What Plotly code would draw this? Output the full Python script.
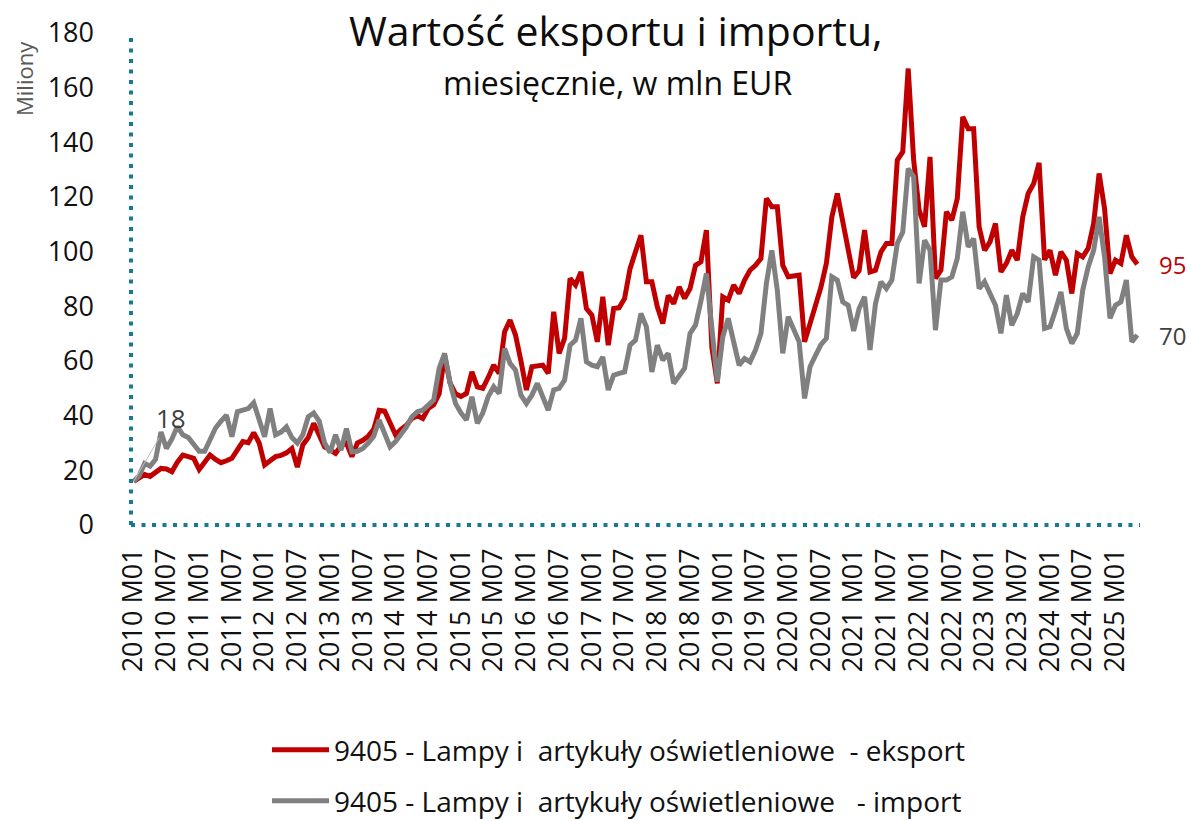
import plotly.graph_objects as go

# ---- data -------------------------------------------------------------
months = [f"{y} M{m:02d}" for y in range(2010, 2026) for m in range(1, 13)][:185]
tick_labels = months[::6]

export = [
    16, 17.5, 18.5, 17.8, 19, 20.7, 20.5, 19.5, 23, 25.6, 25, 24.4,            # 2010
    20.3, 23, 25.6, 24, 22.8, 23.5, 24.4, 27.5, 30.5, 30.1, 33.8, 30,         # 2011
    22, 23.5, 25, 25.5, 26.4, 28, 21.2, 29.3, 32, 37.2, 33, 28.6,             # 2012
    27.5, 26.2, 29, 30, 25, 30, 31, 32.5, 35, 42, 41.7, 37,                   # 2013
    33, 35, 36.5, 39, 40, 39, 42.6, 44, 48, 62, 52, 48,                       # 2014
    47, 48.1, 56, 50.5, 50, 54, 58.5, 55.5, 70.7, 75, 69.5, 60,               # 2015
    49.4, 57.9, 58.3, 58.5, 55.5, 78, 62.8, 68.3, 90.2, 87.8, 92.6, 79.2,     # 2016
    76.8, 67, 83.5, 65.8, 79.2, 79.5, 82.9, 93.8, 100, 106, 89, 89,           # 2017
    79.8, 73.7, 84, 81, 87.1, 82.9, 86.5, 95, 96.3, 107.9, 65, 51.8,          # 2018
    83.5, 82.3, 87.8, 84.7, 89.6, 93.2, 95, 97.5, 119.5, 116.4, 116.4, 95,    # 2019
    90.8, 91, 91.4, 67, 74, 80, 87, 95.7, 112.7, 121.3, 111.5, 100,           # 2020
    90.5, 93, 107.9, 92.6, 93.2, 99.9, 103, 103, 133.5, 136.5, 167, 133.5,    # 2021
    115.2, 109.1, 134.7, 90.2, 93.2, 114.6, 111.5, 119.4, 149.3, 145, 145, 109.1,  # 2022
    100.5, 103.6, 110.3, 92.6, 95.7, 100.5, 96.9, 112.7, 121.3, 124.9, 132.5, 97,  # 2023
    100.5, 91.4, 99.9, 96.9, 84.7, 99.3, 98.1, 101.2, 110.3, 128.6, 115.8, 92,     # 2024
    96.9, 95.7, 106, 98.1, 95.4,                                              # 2025
]

imports = [
    16, 18, 22.5, 21.5, 24, 34, 28, 31.5, 36, 33, 32, 29.5,                   # 2010
    27, 27, 31, 35.5, 38, 40.2, 32.3, 41.4, 42, 42.6, 44.7, 38,               # 2011
    32.3, 42.6, 33, 34, 35.9, 32, 30, 33, 39.6, 41, 38, 30,                   # 2012
    26.5, 33, 27.4, 35.3, 26.8, 27, 28, 30, 32.5, 38.4, 33, 28.6,             # 2013
    30.5, 33, 35.9, 39.6, 41.4, 42, 44, 45.7, 57.3, 62.8, 52, 44.5,           # 2014
    41, 38.4, 46.9, 37.2, 41, 47, 50.6, 48.1, 64.6, 59.1, 56.7, 47.5,         # 2015
    44.5, 47.5, 51.8, 47, 42, 49.4, 50, 53, 65.8, 67.6, 75.6, 59.7,           # 2016
    58.5, 57.9, 61.5, 49.4, 54.8, 55.5, 56, 65.8, 67.6, 77.4, 72.5, 56,       # 2017
    65.8, 60.3, 62.8, 51.8, 54.5, 57.3, 70.1, 73.1, 82, 92, 72, 52.4,         # 2018
    68.8, 75.6, 67, 58.5, 60.9, 59.7, 64, 70.1, 88.4, 100.5, 85.9, 62.8,      # 2019
    76.2, 72, 67, 46.3, 57.9, 62, 66, 68.3, 90.8, 89.6, 81.6, 80.4,           # 2020
    71, 79.2, 83.5, 64, 81, 89, 86.5, 89.6, 103, 107.2, 130.4, 127.4,         # 2021
    88.4, 104.2, 100.5, 71.3, 89.6, 89.6, 90.8, 97.5, 114.6, 101.8, 104.8, 86.5,  # 2022
    89, 84.7, 80.4, 70.1, 84.1, 73.1, 77.4, 84.7, 81.6, 98.1, 96.9, 71.9,     # 2023
    72.5, 78.6, 85.3, 71.9, 66.4, 70.1, 85.9, 94.4, 100.5, 112.7, 98.1, 75.6, # 2024
    80.4, 81.6, 89.6, 67, 69.5,                                               # 2025
]

name_exp = "9405 - Lampy i\u00a0\u00a0artykuły oświetleniowe\u00a0\u00a0- eksport"
name_imp = "9405 - Lampy i\u00a0\u00a0artykuły oświetleniowe\u00a0\u00a0\u00a0- import"

RED = "#C00000"
GREY = "#808080"
TEAL = "#17799A"
FONT = "'Open Sans', Lato, sans-serif"
TXT = "#111111"

fig = go.Figure()
fig.add_trace(go.Scatter(x=months, y=export, mode="lines", name=name_exp,
                         line=dict(color=RED, width=5), legend="legend"))
fig.add_trace(go.Scatter(x=months, y=imports, mode="lines", name=name_imp,
                         line=dict(color=GREY, width=5), legend="legend2"))

L, R, T, B = 131, 51, 33, 296
W, H = 1191, 821
pw, ph = W - L - R, H - T - B

def px_x(x):
    return (x - L) / pw

def px_y(y):
    return (H - B - y) / ph

leg_common = dict(xref="container", yref="container", xanchor="left", yanchor="middle",
                  font=dict(size=28, color=TXT, family=FONT), bgcolor="rgba(0,0,0,0)",
                  itemwidth=57)

fig.update_layout(
    width=W, height=H,
    margin=dict(l=L, r=R, t=T, b=B, autoexpand=False),
    paper_bgcolor="white", plot_bgcolor="white",
    font=dict(family=FONT, color=TXT),
    showlegend=True,
    legend=dict(x=267 / W, y=1 - 750 / H, **leg_common),
    legend2=dict(x=267 / W, y=1 - 801 / H, **leg_common),
    xaxis=dict(type="category", range=[-0.5, len(months) - 0.5],
               tickmode="array", tickvals=tick_labels, ticktext=tick_labels,
               tickangle=-90, tickfont=dict(size=27, color=TXT),
               showgrid=False, showline=False, zeroline=False, ticks="",
               ticklabelstandoff=17),
    yaxis=dict(range=[0, 180], dtick=20, tickfont=dict(size=27, color=TXT),
               showgrid=False, showline=False, zeroline=False, ticks="",
               ticklabelstandoff=36),
    shapes=[
        dict(type="line", xref="paper", yref="paper", x0=0, x1=0, y0=0, y1=1,
             line=dict(color=TEAL, width=4, dash="4px,6.5px")),
        dict(type="line", xref="paper", yref="paper", x0=0, x1=1, y0=0, y1=0,
             line=dict(color=TEAL, width=4, dash="4px,6.5px")),
    ],
    annotations=[
        dict(text="Wartość eksportu i importu,",
             xref="paper", yref="paper", x=px_x(616), y=px_y(30),
             xanchor="center", yanchor="middle", showarrow=False,
             font=dict(size=41, color="#0d0d0d")),
        dict(text="miesięcznie, w mln EUR",
             xref="paper", yref="paper", x=px_x(617), y=px_y(82),
             xanchor="center", yanchor="middle", showarrow=False,
             font=dict(size=32, color="#0d0d0d")),
        dict(text="Miliony", xref="paper", yref="paper", x=px_x(24), y=px_y(79),
             xanchor="center", yanchor="middle", textangle=-90, showarrow=False,
             font=dict(size=22, color="#595959")),
        dict(text=str(round(export[-1])), x=months[-1], y=export[-1],
             xanchor="left", yanchor="middle", xshift=20, showarrow=False,
             font=dict(size=24, color=RED)),
        dict(text=str(round(imports[-1])), x=months[-1], y=imports[-1],
             xanchor="left", yanchor="middle", xshift=20, showarrow=False,
             font=dict(size=24, color="#404040")),
        dict(text="18", x=months[0], y=imports[0], showarrow=True,
             arrowhead=0, arrowwidth=1, arrowcolor="#BFBFBF", ax=37, ay=-63,
             font=dict(size=26, color="#404040")),
    ],
)

fig.write_html("out.html", config={"displayModeBar": False},
               post_script="document.body.style.margin='0px';")
